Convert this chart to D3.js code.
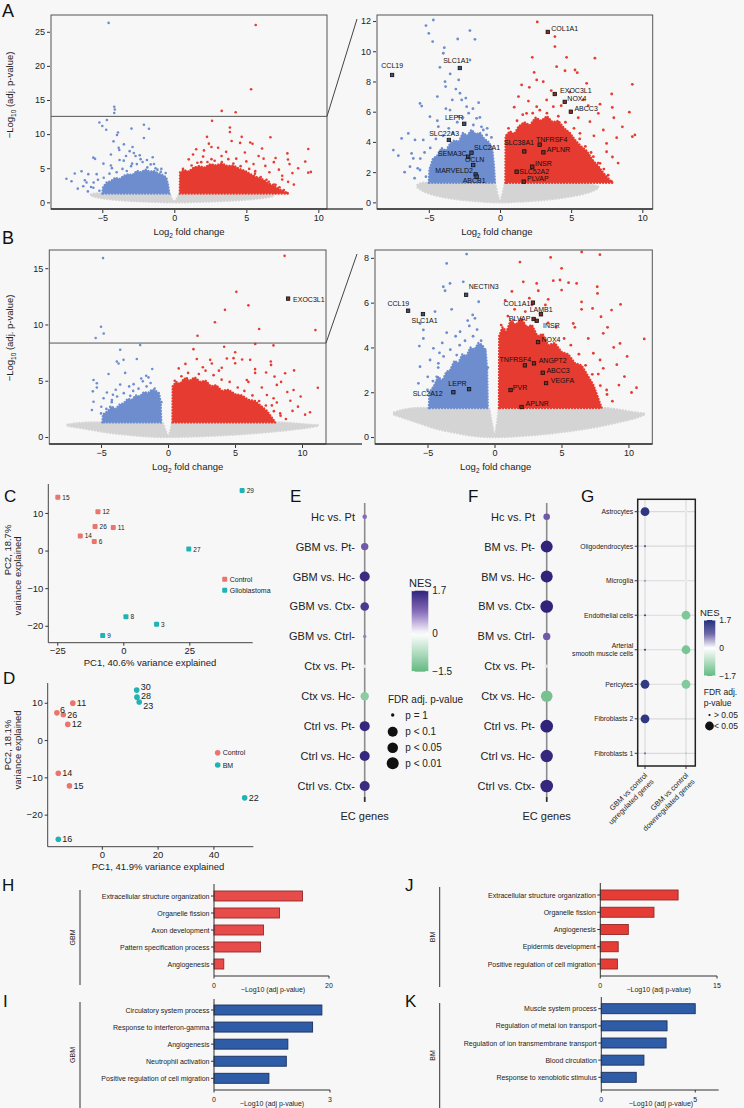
<!DOCTYPE html>
<html>
<head>
<meta charset="utf-8">
<script src="https://cdn.jsdelivr.net/npm/d3@7"></script>
<style>
  body { margin: 0; background: #f7f7f7; }
  svg { font-family: "Liberation Sans", Arial, Helvetica, sans-serif; }
</style>
</head>
<body>
<svg id="fig" width="744" height="1108"></svg>
<script>
// ---------------- volcano data, GBM vs control (panel A) ----------------
// dense clouds as envelopes: [log2FC, low, high] in -log10(adj p)
var gbmGrayBand = [[-5.8,1.0,1.15],[-5.4,0.75,1.3],[-5,0.6,1.3],[-4,0.35,1.3],[-3,0.2,1.3],[-2,0.1,1.3],[-1,0.03,1.3],[-0.4,0,1.3],[-0.15,0,0.45],[0,0,0.05],[0.15,0,0.45],[0.4,0,1.3],[1,0.03,1.3],[2,0.08,1.3],[3,0.15,1.3],[4,0.25,1.3],[5,0.4,1.3],[6,0.6,1.25],[6.5,0.75,1.15],[6.9,0.95,1.05]];
var gbmBlueBand = [[-5.0,1.3,1.3],[-4.95,1.3,2.2],[-4.7,1.3,2.9],[-4.4,1.3,3.1],[-4.1,1.3,3.6],[-3.8,1.3,3.4],[-3.5,1.3,3.9],[-3.2,1.3,4.1],[-2.9,1.3,4.0],[-2.6,1.3,4.6],[-2.3,1.3,4.4],[-2.0,1.3,4.8],[-1.7,1.3,4.5],[-1.4,1.3,4.6],[-1.1,1.3,4.2],[-0.8,1.3,4.0],[-0.55,1.3,3.6],[-0.42,1.3,2.4],[-0.35,1.3,1.3]];
var gbmRedBand = [[0.38,1.3,1.3],[0.4,1.3,4.4],[0.7,1.3,4.7],[1.0,1.3,4.5],[1.3,1.3,5.0],[1.7,1.3,5.3],[2.1,1.3,5.1],[2.5,1.3,5.6],[2.9,1.3,5.4],[3.3,1.3,5.7],[3.7,1.3,5.3],[4.1,1.3,5.4],[4.5,1.3,4.9],[4.9,1.3,4.6],[5.3,1.3,4.1],[5.7,1.3,3.7],[6.1,1.3,3.4],[6.5,1.3,2.8],[6.9,1.3,2.4],[7.3,1.3,1.9],[7.7,1.3,1.5],[7.9,1.3,1.3]];
var gbmDownPts = [[-4.56,26.3],[-4.17,14.0],[-4.13,13.6],[-4.17,13.1],
  [-4.68,12.07],[-5.2,11.7],[-5.0,11.19],[-4.73,10.64],[-3.91,10.24],[-3.98,9.87],[-4.22,8.94],[-3.86,7.99],[-3.82,7.66],
  [-2.11,11.37],[-1.76,10.79],[-2.97,10.81],[-2.11,9.42],[-5.62,6.55],[-5.5,6.37],[-4.92,5.67],[-6.91,4.23],[-6.44,4.56],
  [-7.49,3.46],[-7.14,3.09],[-6.09,2.91],[-6.21,3.24],[-5.62,2.14],[-5.39,4.13],[-3.35,6.78],[-2.81,7.22],[-2.69,6.78],
  [-3.51,6.11],[-2.34,6.33],[-1.64,5.56],[-1.41,5.62],[-2.93,5.67],[-1.87,5.12],[-1.17,4.79],[-0.94,4.46],[-4.33,5.01],
  [-5.97,4.13],[-5.78,2.25],[-6.32,2.36],[-4.33,3.02],
  [-4.5,4.2],[-4.0,4.4],[-3.6,4.9],[-3.0,5.3],[-2.6,5.6],[-2.2,5.9],[-1.9,6.2],[-1.3,5.0],[-0.9,4.9],[-0.6,4.3],
  [-3.3,4.6],[-4.9,3.6],[-5.3,3.3],[-5.6,2.9],[-4.4,5.4],[-3.8,6.2],[-2.4,6.9],[-1.5,6.6],[-3.1,7.5],[-2.9,8.1],
  [-4.4,7.0],[-3.5,8.5],[-6.7,2.0],[-6.0,1.6],[-5.2,1.7]];
var gbmUpPts = [[5.65,26.0],[5.33,16.57],[3.29,13.4],[4.26,13.2],
  [2.62,11.94],[3.86,10.97],[3.86,10.31],[2.27,9.6],[4.68,9.6],[6.67,9.54],[3.98,8.98],[5.27,8.76],[5.43,8.58],[4.57,8.71],
  [2.58,8.1],[3.04,7.99],[1.52,7.77],[2.06,7.61],[6.09,7.88],[9.3,7.81],[7.85,7.17],[5.85,6.78],[7.03,6.5],[7.89,6.28],
  [9.09,5.97],[6.91,5.89],[3.28,6.78],[3.75,6.33],[2.58,6.33],[1.87,5.89],[6.32,5.34],[7.26,4.79],[8.2,4.28],[9.3,4.35],
  [9.48,4.46],[7.49,3.9],[7.49,3.35],[7.03,2.58],[7.85,1.37],[7.03,1.37],[6.79,2.36],[6.21,3.02],[5.62,4.57],[0.94,3.68],
  [0.82,4.35],[1.41,5.01],[6.56,3.02],
  [0.6,4.9],[1.2,5.4],[1.6,5.8],[2.3,5.9],[2.8,6.1],[3.3,5.9],[4.1,5.7],[4.6,5.3],[5.2,4.9],[5.6,4.2],[6.0,3.7],
  [6.4,3.3],[6.9,2.6],[7.3,2.2],[7.6,1.8],[1.0,6.3],[2.0,6.7],[4.3,6.4],[5.0,6.0],[5.5,5.6],[6.6,4.4],[7.9,3.0],
  [8.3,2.6],[1.3,7.0],[3.6,7.4],[4.9,7.3],[6.2,6.4],[8.6,5.0],[8.0,5.6],[2.4,8.6]];
var gbmGenes = [["COL1A1",3.36,11.28,"up"],["CCL19",-7.58,8.43,"down"],["SLC1A1",-2.82,8.89,"down"],
  ["EXOC3L1",3.85,7.17,"up"],["NOX4",4.55,6.65,"up"],["ABCC3",4.98,6.0,"up"],["LEPR",-2.51,5.2,"down"],
  ["SLC22A3",-3.59,4.13,"down"],["SLC2A1",-2.0,3.29,"down"],["SEMA3C",-2.23,3.02,"down"],["OCLN",-1.88,2.47,"down"],
  ["MARVELD2",-1.71,1.85,"down"],["ABCB1",-1.64,1.7,"down"],["SLC38A1",1.71,3.37,"up"],["TNFRSF4",2.79,3.82,"up"],
  ["APLNR",3.05,3.31,"up"],["INSR",2.27,2.36,"up"],["SLC52A2",1.17,2.03,"up"],["PLVAP",1.67,1.37,"up"]];

// ---------------- volcano data, BM vs control (panel B) ----------------
var bmGrayBand = [[-7.5,1.0,1.1],[-6.5,0.8,1.25],[-5.5,0.6,1.3],[-4.5,0.4,1.3],[-3,0.2,1.3],[-1.5,0.05,1.3],[-0.45,0,1.3],[-0.15,0,0.45],[0,0,0.05],[0.15,0,0.45],[0.35,0,1.3],[2,0.05,1.3],[4,0.15,1.3],[6,0.3,1.3],[8,0.5,1.3],[9.5,0.7,1.2],[10.5,0.85,1.1],[11.2,1.0,1.05]];
var bmBlueBand = [[-4.9,1.3,1.3],[-4.85,1.3,2.0],[-4.5,1.3,2.3],[-4.2,1.3,2.7],[-3.9,1.3,2.5],[-3.6,1.3,2.9],[-3.3,1.3,3.0],[-3.0,1.3,3.4],[-2.7,1.3,3.3],[-2.4,1.3,3.7],[-2.1,1.3,3.6],[-1.8,1.3,4.0],[-1.5,1.3,3.9],[-1.2,1.3,4.2],[-0.9,1.3,4.1],[-0.65,1.3,3.8],[-0.55,1.3,3.0],[-0.5,1.3,1.3]];
var bmRedBand = [[0.33,1.3,1.3],[0.35,1.3,4.5],[0.6,1.3,4.9],[0.9,1.3,4.7],[1.2,1.3,5.2],[1.6,1.3,5.0],[2.0,1.3,5.3],[2.4,1.3,4.9],[2.8,1.3,5.0],[3.2,1.3,4.5],[3.6,1.3,4.6],[4.0,1.3,4.1],[4.5,1.3,4.2],[5.0,1.3,3.8],[5.5,1.3,3.7],[6.0,1.3,3.3],[6.5,1.3,3.2],[7.0,1.3,2.7],[7.4,1.3,2.3],[7.7,1.3,1.8],[8.0,1.3,1.3]];
var bmDownPts = [[-4.85,15.9],[-5.0,9.8],[-4.8,9.2],[-5.4,8.8],
  [-2.08,8.17],[-3.57,7.75],[-3.32,6.86],[-3.69,6.53],[-3.82,6.71],[-2.33,6.93],[-1.18,6.04],[-3.2,5.7],[-4.44,5.6],
  [-1.63,5.45],[-1.46,5.3],[-1.88,4.96],[-5.56,5.07],[-5.31,4.78],[-3.57,4.66],[-2.57,4.7],[-5.61,4.06],[-5.31,4.4],
  [-4.56,3.96],[-4.11,3.76],[-2.82,3.66],[-4.81,3.44],[-5.56,3.14],[-4.19,3.29],[-4.98,2.69],[-5.68,2.4],[-4.31,2.69],
  [-4.56,1.58],[-3.32,1.8],[-3.82,1.58],
  [-4.2,3.1],[-3.8,3.6],[-3.3,3.9],[-2.6,4.1],[-2.2,4.3],[-1.6,4.5],[-1.0,4.3],[-0.7,3.9],[-0.5,3.1],[-4.6,2.5],
  [-5.0,2.1],[-2.9,4.5],[-1.3,4.8],[-2.0,5.2],[-3.9,4.2]];
var bmUpPts = [[8.7,16.1],[5.1,12.9],[4.25,11.3],[6.0,11.7],[11.0,9.5],[3.5,10.2],[6.8,9.6],[2.2,9.0],
  [6.51,8.26],[7.87,8.14],[1.9,7.81],[4.19,8.02],[5.01,7.53],[2.15,6.93],[3.15,6.86],[4.39,6.98],[4.89,7.01],[5.53,6.89],
  [6.13,6.86],[3.27,6.53],[5.01,6.56],[7.67,6.71],[7.69,6.41],[4.01,6.15],[9.41,5.92],[6.5,6.03],[6.5,5.7],[7.32,5.74],
  [8.74,5.67],[7.95,5.37],[5.88,5.07],[8.44,4.9],[8.12,4.63],[11.18,4.38],[9.37,4.18],[7.38,3.74],[7.88,3.44],[9.13,3.23],
  [8.12,3.07],[7.75,2.81],[9.29,2.32],[10.23,1.99],[8.37,2.1],[1.9,4.11],[0.84,4.63],[1.4,5.22],
  [0.5,5.0],[1.0,5.4],[1.5,5.7],[2.3,5.6],[2.8,5.9],[3.4,5.5],[4.0,5.1],[4.6,4.9],[5.2,4.4],[5.7,4.1],[6.3,3.7],
  [6.8,3.2],[7.3,2.8],[7.9,2.3],[8.4,1.9],[8.8,1.6],[0.8,6.1],[1.3,6.5],[2.6,6.2],[3.8,5.9],[6.0,4.9],[7.0,4.4],
  [9.7,2.7],[9.9,3.6],[10.6,2.2],[8.9,4.0]];
var bmGenes = [["EXOC3L1",8.96,12.3,"up"],["NECTIN3",-2.12,6.35,"down"],["CCL19",-6.45,5.64,"down"],
  ["SLC1A1",-5.34,5.49,"down"],["COL1A1",2.87,6.0,"up"],["LAMB1",3.47,5.48,"up"],["PLVAP",2.92,5.27,"up"],
  ["INSR",3.15,5.19,"up"],["NOX4",3.25,4.24,"up"],["TNFRSF4",2.27,3.2,"up"],["ANGPT2",2.95,3.29,"up"],
  ["ABCC3",3.6,2.87,"up"],["VEGFA",3.85,2.41,"up"],["LEPR",-1.9,2.14,"down"],["SLC2A12",-3.07,2.0,"down"],
  ["PVR",1.2,2.1,"up"],["APLNR",2.02,1.34,"up"]];

// ---------------- PCA (panels C, D) ----------------
var pcaGbmId = ["15","12","26","11","14","6","27","29","8","3","9"];
var pcaGbmPC1 = [-24.8,-9.6,-10.7,-3.8,-16.3,-11,24.8,45.0,1.0,12.6,-7.8];
var pcaGbmPC2 = [14.2,10.3,6.4,6.1,3.9,2.4,0.4,16.0,-17.6,-19.6,-22.6];
var pcaGbmGroup = ["Control","Control","Control","Control","Control","Control","Glioblastoma","Glioblastoma","Glioblastoma","Glioblastoma","Glioblastoma"];

var pcaBmId = ["6","26","11","12","14","15","16","30","28","23","22"];
var pcaBmPC1 = [-16.1,-13.8,-10.4,-12.2,-15.6,-11.6,-15.6,12.5,12.6,13.4,51.2];
var pcaBmPC2 = [7.3,6.8,9.9,4.2,-8.9,-12.3,-26.6,13.4,11.5,10.2,-15.5];
var pcaBmGroup = ["Control","Control","Control","Control","Control","Control","BM","BM","BM","BM","BM"];

// ---------------- GSEA of EC genes (panels E, F) ----------------
var ecRowsE = ["Hc vs. Pt","GBM vs. Pt-","GBM vs. Hc-","GBM vs. Ctx-","GBM vs. Ctrl-","Ctx vs. Pt-","Ctx vs. Hc-","Ctrl vs. Pt-","Ctrl vs. Hc-","Ctrl vs. Ctx-"];
var ecNesE = [0.9,1.1,1.6,1.45,0.75,0.15,-1.1,1.65,1.65,1.6];
var ecFdrE = [0.48,0.11,0.028,0.059,0.9,0.9,0.066,0.028,0.028,0.028];
var ecRowsF = ["Hc vs. Pt","BM vs. Pt-","BM vs. Hc-","BM vs. Ctx-","BM vs. Ctrl-","Ctx vs. Pt-","Ctx vs. Hc-","Ctrl vs. Pt-","Ctrl vs. Hc-","Ctrl vs. Ctx-"];
var ecNesF = [1.1,1.7,1.7,1.7,1.1,0.2,-1.3,1.7,1.65,1.65];
var ecFdrF = [0.17,0.01,0.01,0.007,0.11,0.9,0.012,0.007,0.008,0.007];
var fdrLegendLabels = ["p = 1","p < 0.1","p < 0.05","p < 0.01"];

// ---------------- cell type enrichment (panel G) ----------------
var cellTypes = ["Astrocytes","Oligodendrocytes","Microglia","Endothelial cells","Arterial|smooth muscle cells","Pericytes","Fibroblasts 2","Fibroblasts 1"];
var geneSets = ["GBM vs control|upregulated genes","GBM vs control|downregulated genes"];
var cellNesUp = [1.6,1.0,0.6,1.3,1.4,1.55,1.6,0.8];
var cellNesDown = [-0.3,0.2,0.1,-1.4,-1.45,-1.35,-0.7,-0.9];
var cellSigUp = [1,0,0,0,0,1,1,0];
var cellSigDown = [0,0,0,1,1,1,0,0];

// ---------------- GO terms (panels H-K) ----------------
var gbmUpTerms = ["Extracellular structure organization","Organelle fission","Axon development","Pattern specification process","Angiogenesis"];
var gbmUpVals = [15.4,11.4,8.6,8.1,1.7];
var gbmDownTerms = ["Circulatory system process","Response to interferon-gamma","Angiogenesis","Neutrophil activation","Positive regulation of cell migration"];
var gbmDownVals = [2.79,2.55,1.91,1.87,1.42];
var bmUpTerms = ["Extracellular structure organization","Organelle fission","Angiogenesis","Epidermis development","Positive regulation of cell migration"];
var bmUpVals = [10.0,6.9,3.6,2.3,2.2];
var bmDownTerms = ["Muscle system process","Regulation of metal ion transport","Regulation of ion transmembrane transport","Blood circulation","Response to xenobiotic stimulus"];
var bmDownVals = [5.0,3.5,3.45,2.27,1.86];

// label nudges (px) for gene labels: [dx, dy, anchor]
var gbmGeneNudge = {COL1A1:[3.5,-3.7,"start"],CCL19:[11,-9,"end"],SLC1A1:[-16.7,-7.7,"start"],EXOC3L1:[5.3,-3.3,"start"],
  NOX4:[2.6,-3,"start"],ABCC3:[3.6,-3.4,"start"],LEPR:[-19.3,-6.4,"start"],SLC22A3:[-19.7,-6,"start"],SLC2A1:[2.6,-5,"start"],
  SEMA3C:[-1.6,-3,"end"],OCLN:[-8.3,-5.3,"start"],MARVELD2:[-2.7,-4.3,"end"],ABCB1:[-14,3.6,"start"],SLC38A1:[-20.3,-8.6,"start"],
  TNFRSF4:[-3.7,-5.4,"start"],APLNR:[3.4,-3.3,"start"],INSR:[2.7,-3,"start"],SLC52A2:[2.6,0,"start"],PLVAP:[3.3,-3,"start"]};
var bmGeneNudge = {EXOC3L1:[5,1,"start"],NECTIN3:[2.6,-8,"start"],CCL19:[-20.7,-7.4,"start"],SLC1A1:[-11.4,6,"start"],
  COL1A1:[-2.6,0.6,"end"],LAMB1:[-11.3,-5,"start"],PLVAP:[-3.3,0,"end"],INSR:[6.3,4.6,"start"],NOX4:[3.4,-2.7,"start"],
  TNFRSF4:[-25.3,-6,"start"],ANGPT2:[4.7,-3,"start"],ABCC3:[3.7,-2.7,"start"],VEGFA:[4.7,-2.7,"start"],LEPR:[-20.7,-5.7,"start"],
  SLC2A12:[-10.7,1,"end"],PVR:[2.3,-2.7,"start"],APLNR:[4,-3.3,"start"]};

var BLUE = "#6d8dcf", RED = "#e63b30", GRAY = "#d4d4d4";
var SALMON = "#e9756d", TEAL = "#1fb3b3";

var svg = d3.select("#fig");
var defs = svg.append("defs");

function panelLabel(t, x, y, size) {
  svg.append("text").attr("x", x).attr("y", y).attr("font-size", size || 17).attr("fill", "#111").text(t);
}

function styleAxis(g, fs) {
  g.select(".domain").remove();
  g.selectAll(".tick line").attr("stroke", "#333");
  g.selectAll(".tick text").attr("font-size", fs).attr("fill", "#222")
    .attr("font-family", "'Liberation Sans', Arial, sans-serif");
}

//draw one volcano panel (full range or zoomed)
function drawVolcano(o) {
  var x = d3.scaleLinear().domain(o.xDom).range([o.l, o.r]);
  var y = d3.scaleLinear().domain(o.yDom).range([o.b, o.t]);

  defs.append("clipPath").attr("id", "clip-" + o.name)
    .append("rect").attr("x", o.l).attr("y", o.t).attr("width", o.r - o.l).attr("height", o.b - o.t);
  var g = svg.append("g").attr("clip-path", "url(#clip-" + o.name + ")");

  var band = d3.area()
    .x(function(d) { return x(d[0]); })
    .y0(function(d) { return y(d[1]); })
    .y1(function(d) { return y(d[2]); });
  // dense clouds: filled envelope with a dotted rim so the edge reads like points
  [[o.gray, GRAY, d3.curveMonotoneX], [o.blue, BLUE, d3.curveLinear], [o.red, RED, d3.curveLinear]].forEach(function(b) {
    g.append("path").datum(b[0]).attr("d", band.curve(b[2])).attr("fill", b[1])
      .attr("stroke", b[1]).attr("stroke-width", 2.4).attr("stroke-linecap", "round")
      .attr("stroke-dasharray", "0.1 2.9");
  });

  g.selectAll("circle.dn").data(o.down).enter().append("circle")
    .attr("cx", function(d) { return x(d[0]); }).attr("cy", function(d) { return y(d[1]); })
    .attr("r", o.pr).attr("fill", BLUE);
  g.selectAll("circle.up").data(o.up).enter().append("circle")
    .attr("cx", function(d) { return x(d[0]); }).attr("cy", function(d) { return y(d[1]); })
    .attr("r", o.pr).attr("fill", RED);

  // labelled genes (only those above the cut in the full view)
  var genes = o.genes.filter(function(d) { return d[2] >= o.labelMin && d[2] <= o.yDom[1]; });
  svg.selectAll(null).data(genes).enter().append("rect")
    .attr("x", function(d) { return x(d[1]) - 1.7; }).attr("y", function(d) { return y(d[2]) - 1.7; })
    .attr("width", 3.4).attr("height", 3.4)
    .attr("fill", function(d) { return d[3] == "up" ? "#8a2a22" : "#3b4f80"; })
    .attr("stroke", "#111").attr("stroke-width", 0.8);
  svg.selectAll(null).data(genes).enter().append("text")
    .attr("x", function(d) { return x(d[1]) + o.nudge[d[0]][0]; })
    .attr("y", function(d) { return y(d[2]) + o.nudge[d[0]][1]; })
    .attr("text-anchor", function(d) { return o.nudge[d[0]][2]; })
    .attr("dominant-baseline", "central")
    .attr("font-size", 7).attr("fill", "#111")
    .text(function(d) { return d[0]; });

  // cut line for the zoomed region
  if (o.cut != null) {
    svg.append("line").attr("x1", o.l).attr("x2", o.r).attr("y1", y(o.cut)).attr("y2", y(o.cut))
      .attr("stroke", "#555").attr("stroke-width", 1);
  }

  svg.append("rect").attr("x", o.l).attr("y", o.t).attr("width", o.r - o.l).attr("height", o.b - o.t)
    .attr("fill", "none").attr("stroke", "#555").attr("stroke-width", 1);
  svg.append("line").attr("x1", o.l).attr("x2", o.r).attr("y1", o.b).attr("y2", o.b)
    .attr("stroke", "#333").attr("stroke-width", 1.3);

  var ya = svg.append("g").attr("transform", "translate(" + (o.l - 1) + ",0)")
    .call(d3.axisLeft(y).tickValues(o.yTicks).tickSize(3).tickPadding(2));
  styleAxis(ya, 9);
  var xa = svg.append("g").attr("transform", "translate(0," + (o.b + 1) + ")")
    .call(d3.axisBottom(x).tickValues(o.xTicks).tickSize(3).tickPadding(2));
  styleAxis(xa, 9);

  var xt = svg.append("text").attr("x", (o.l + o.r) / 2 + o.xtShift).attr("y", o.b + 26)
    .attr("text-anchor", "middle").attr("font-size", 9.5).attr("fill", "#222");
  xt.append("tspan").text("Log");
  xt.append("tspan").attr("font-size", 6.5).attr("dy", 2.5).text("2");
  xt.append("tspan").attr("dy", -2.5).text(" fold change");

  return { x: x, y: y };
}

function yTitle(cx, cy) {
  var t = svg.append("text").attr("transform", "translate(" + cx + "," + cy + ") rotate(-90)")
    .attr("text-anchor", "middle").attr("font-size", 9.5).attr("fill", "#222");
  t.append("tspan").text("\u2212Log");
  t.append("tspan").attr("font-size", 6.5).attr("dy", 2.5).text("10");
  t.append("tspan").attr("dy", -2.5).text(" (adj. p-value)");
}

// ---------- panel A ----------
var aFull = drawVolcano({ name: "a1", l: 51, r: 327, t: 15, b: 209, xDom: [-8.56, 10.6], yDom: [-0.98, 27.46],
  gray: gbmGrayBand, blue: gbmBlueBand, red: gbmRedBand, down: gbmDownPts, up: gbmUpPts,
  genes: gbmGenes, nudge: gbmGeneNudge, labelMin: 12.6, cut: 12.6, pr: 1.3,
  yTicks: [0, 5, 10, 15, 20, 25], xTicks: [-5, 0, 5, 10], xtShift: 0 });
drawVolcano({ name: "a2", l: 377, r: 652.7, t: 15, b: 209, xDom: [-8.64, 10.73], yDom: [-0.44, 12.4],
  gray: gbmGrayBand, blue: gbmBlueBand, red: gbmRedBand, down: gbmDownPts, up: gbmUpPts,
  genes: gbmGenes, nudge: gbmGeneNudge, labelMin: -1, cut: null, pr: 1.4,
  yTicks: [0, 2, 4, 6, 8, 10, 12], xTicks: [-5, 0, 5, 10], xtShift: -18 });
svg.append("line").attr("x1", 327).attr("y1", aFull.y(12.6)).attr("x2", 357).attr("y2", 19).attr("stroke", "#444");
svg.append("line").attr("x1", 327).attr("y1", 209).attr("x2", 363).attr("y2", 209).attr("stroke", "#444").attr("stroke-width", 1.3);
yTitle(13, 95);
panelLabel("A", 2, 17, 18);

// ---------- panel B ----------
var bFull = drawVolcano({ name: "b1", l: 49.3, r: 326, t: 250, b: 444, xDom: [-8.86, 11.79], yDom: [-0.62, 16.62],
  gray: bmGrayBand, blue: bmBlueBand, red: bmRedBand, down: bmDownPts, up: bmUpPts,
  genes: bmGenes, nudge: bmGeneNudge, labelMin: 8.35, cut: 8.35, pr: 1.3,
  yTicks: [0, 5, 10, 15], xTicks: [-5, 0, 5, 10], xtShift: 0 });
drawVolcano({ name: "b2", l: 375, r: 652.3, t: 250, b: 444, xDom: [-8.92, 11.78], yDom: [-0.31, 8.35],
  gray: bmGrayBand, blue: bmBlueBand, red: bmRedBand, down: bmDownPts, up: bmUpPts,
  genes: bmGenes, nudge: bmGeneNudge, labelMin: -1, cut: null, pr: 1.4,
  yTicks: [0, 2, 4, 6, 8], xTicks: [-5, 0, 5, 10], xtShift: -18 });
svg.append("line").attr("x1", 326).attr("y1", bFull.y(8.35)).attr("x2", 357).attr("y2", 254).attr("stroke", "#444");
svg.append("line").attr("x1", 326).attr("y1", 444).attr("x2", 362).attr("y2", 444).attr("stroke", "#444").attr("stroke-width", 1.3);
yTitle(13, 338);
panelLabel("B", 2, 244, 18);

// ---------- PCA panels ----------
function drawPca(o) {
  var x = d3.scaleLinear().domain(o.xDom).range([o.l, o.r]);
  var y = d3.scaleLinear().domain(o.yDom).range([o.b, o.t]);
  var col = d3.scaleOrdinal().domain(o.groups).range([SALMON, TEAL]);

  svg.append("line").attr("x1", o.l).attr("x2", o.l).attr("y1", o.t).attr("y2", o.b).attr("stroke", "#444");
  svg.append("line").attr("x1", o.l).attr("x2", o.r).attr("y1", o.b).attr("y2", o.b).attr("stroke", "#444");
  var ya = svg.append("g").attr("transform", "translate(" + o.l + ",0)")
    .call(d3.axisLeft(y).tickValues(o.yTicks).tickSize(3).tickPadding(2));
  styleAxis(ya, 9.5);
  var xa = svg.append("g").attr("transform", "translate(0," + o.b + ")")
    .call(d3.axisBottom(x).tickValues(o.xTicks).tickSize(3).tickPadding(2));
  styleAxis(xa, 9.5);

  var idx = d3.range(o.ids.length);
  if (o.square) {
    svg.selectAll(null).data(idx).enter().append("rect")
      .attr("x", function(i) { return x(o.pc1[i]) - 2.5; }).attr("y", function(i) { return y(o.pc2[i]) - 2.5; })
      .attr("width", 5).attr("height", 5).attr("rx", 1)
      .attr("fill", function(i) { return col(o.group[i]); });
  } else {
    svg.selectAll(null).data(idx).enter().append("circle")
      .attr("cx", function(i) { return x(o.pc1[i]); }).attr("cy", function(i) { return y(o.pc2[i]); })
      .attr("r", 2.8).attr("fill", function(i) { return col(o.group[i]); });
  }
  svg.selectAll(null).data(idx).enter().append("text")
    .attr("x", function(i) { var n = o.nudge[o.ids[i]] || o.defNudge; return x(o.pc1[i]) + n[0]; })
    .attr("y", function(i) { var n = o.nudge[o.ids[i]] || o.defNudge; return y(o.pc2[i]) + n[1]; })
    .attr("dominant-baseline", "central").attr("font-size", o.lfs).attr("fill", "#222")
    .text(function(i) { return o.ids[i]; });

  // legend
  o.groups.forEach(function(gname, k) {
    var ly = o.legY + k * o.legStep;
    if (o.square) {
      svg.append("rect").attr("x", o.legX - 2.5).attr("y", ly - 2.5).attr("width", 5).attr("height", 5).attr("rx", 1).attr("fill", col(gname));
    } else {
      svg.append("circle").attr("cx", o.legX).attr("cy", ly).attr("r", 2.8).attr("fill", col(gname));
    }
    svg.append("text").attr("x", o.legX + 5).attr("y", ly).attr("dominant-baseline", "central")
      .attr("font-size", 7).attr("fill", "#222").text(gname);
  });

  svg.append("text").attr("x", o.xtX).attr("y", o.xtY).attr("text-anchor", "middle")
    .attr("font-size", 9.5).attr("fill", "#222").text(o.xTitle);
  o.yTitle.forEach(function(line, k) {
    svg.append("text").attr("transform", "translate(" + (o.ytX + k * 10) + "," + o.ytY[k] + ") rotate(-90)")
      .attr("text-anchor", "middle").attr("font-size", 9.5).attr("fill", "#222").text(line);
  });
}

drawPca({ l: 48.3, r: 252.7, t: 484, b: 642.7, xDom: [-28.4, 49], yDom: [-24.5, 17.7],
  xTicks: [-25, 0, 25], yTicks: [-20, -10, 0, 10], ids: pcaGbmId, pc1: pcaGbmPC1, pc2: pcaGbmPC2, group: pcaGbmGroup,
  groups: ["Control", "Glioblastoma"], square: true, lfs: 6.5, nudge: {}, defNudge: [4.5, 0],
  legX: 224.7, legY: 579.3, legStep: 11, xTitle: "PC1, 40.6% variance explained", xtX: 150, xtY: 666,
  yTitle: ["PC2, 18.7%", "variance explained"], ytX: 10.5, ytY: [550, 576] });
panelLabel("C", 4, 502);

drawPca({ l: 47.7, r: 253.3, t: 683, b: 846.7, xDom: [-19.4, 54.3], yDom: [-28.6, 15.3],
  xTicks: [0, 20, 40], yTicks: [-20, -10, 0, 10], ids: pcaBmId, pc1: pcaBmPC1, pc2: pcaBmPC2, group: pcaBmGroup,
  groups: ["Control", "BM"], square: false, lfs: 9,
  nudge: { "6": [3, -3], "30": [4, -3.3], "28": [4, -1.3], "23": [4, 3.5] }, defNudge: [4, 0],
  legX: 217.7, legY: 752.7, legStep: 12.3, xTitle: "PC1, 41.9% variance explained", xtX: 158, xtY: 870,
  yTitle: ["PC2, 18.1%", "variance explained"], ytX: 10.5, ytY: [745, 750] });
panelLabel("D", 3, 684);

// ---------- panels E, F ----------
var nesColor = d3.scaleLinear().domain([-1.5, 0, 0.85, 1.7])
  .range(["#63b981", "#ffffff", "#8a6fbd", "#30237a"]).clamp(true);
var fdrRadius = d3.scaleLinear().domain([0, 2]).range([1.6, 6]);

function drawLollipop(rows, nes, fdr, lineX, labelRight) {
  var y = d3.scalePoint().domain(rows).range([516.7, 786]);
  svg.append("line").attr("x1", lineX).attr("x2", lineX).attr("y1", 503).attr("y2", 801)
    .attr("stroke", "#8c8c8c").attr("stroke-width", 1.6);
  svg.append("line").attr("x1", lineX).attr("x2", lineX).attr("y1", 797).attr("y2", 802)
    .attr("stroke", "#333").attr("stroke-width", 1.6);
  svg.selectAll(null).data(rows).enter().append("circle")
    .attr("cx", lineX).attr("cy", function(d) { return y(d); })
    .attr("r", function(d, i) { return fdrRadius(-Math.log10(fdr[i])); })
    .attr("fill", function(d, i) { return nesColor(nes[i]); });
  svg.selectAll(null).data(rows).enter().append("text")
    .attr("x", labelRight).attr("y", function(d) { return y(d); })
    .attr("text-anchor", "end").attr("dominant-baseline", "central")
    .attr("font-size", 11).attr("fill", "#222").text(function(d) { return d; });
  svg.append("text").attr("x", lineX).attr("y", 820).attr("text-anchor", "middle")
    .attr("font-size", 11).attr("fill", "#222").text("EC genes");
}
drawLollipop(ecRowsE, ecNesE, ecFdrE, 364.7, 355);
drawLollipop(ecRowsF, ecNesF, ecFdrF, 546.7, 535);
panelLabel("E", 290, 502);
panelLabel("F", 468, 502);

function colorBar(id, scale, lo, hi, bx, by, bw, bh, labels, title, titleX, titleY, fs) {
  var gr = defs.append("linearGradient").attr("id", id).attr("x1", 0).attr("y1", 1).attr("x2", 0).attr("y2", 0);
  d3.range(0, 1.0001, 0.05).forEach(function(t) {
    gr.append("stop").attr("offset", t).attr("stop-color", scale(lo + t * (hi - lo)));
  });
  svg.append("rect").attr("x", bx).attr("y", by).attr("width", bw).attr("height", bh).attr("fill", "url(#" + id + ")");
  var yb = d3.scaleLinear().domain([lo, hi]).range([by + bh, by]);
  labels.forEach(function(v) {
    svg.append("text").attr("x", bx + bw + 4).attr("y", yb(v)).attr("dominant-baseline", "central")
      .attr("font-size", fs).attr("fill", "#222").text(d3.format("")(v).replace("-", "\u2212"));
    svg.append("line").attr("x1", bx).attr("x2", bx + 3).attr("y1", yb(v)).attr("y2", yb(v)).attr("stroke", "#fff");
    svg.append("line").attr("x1", bx + bw - 3).attr("x2", bx + bw).attr("y1", yb(v)).attr("y2", yb(v)).attr("stroke", "#fff");
  });
  svg.append("text").attr("x", titleX).attr("y", titleY).attr("font-size", fs + 1).attr("fill", "#222").text(title);
}
colorBar("nesE", nesColor, -1.5, 1.7, 411.7, 590.7, 16.6, 81, [1.7, 0, -1.5], "NES", 409, 587, 10);

// FDR size legend for E/F
svg.append("text").attr("x", 388).attr("y", 699.3).attr("dominant-baseline", "central")
  .attr("font-size", 10).attr("fill", "#222").text("FDR adj. p-value");
var fdrLegendR = [1.7, 5, 5.3, 6];
fdrLegendLabels.forEach(function(lab, i) {
  var ly = [715, 731.7, 747.7, 763.3][i];
  svg.append("circle").attr("cx", 392.7).attr("cy", ly).attr("r", fdrLegendR[i]).attr("fill", "#111");
  svg.append("text").attr("x", 405.3).attr("y", ly).attr("dominant-baseline", "central")
    .attr("font-size", 10).attr("fill", "#222").text(lab);
});

// ---------- panel G ----------
var cellColor = d3.scaleLinear().domain([-1.7, 0, 0.85, 1.7])
  .range(["#62bb81", "#ffffff", "#6f6aa8", "#24307e"]).clamp(true);
var gx = d3.scalePoint().domain(geneSets).range([645, 686]);
var gy = d3.scalePoint().domain(cellTypes).range([511.7, 753.3]);
var gL = 637.7, gR = 695.3, gT = 499.3, gB = 766;

cellTypes.forEach(function(c) {
  svg.append("line").attr("x1", gL).attr("x2", gR).attr("y1", gy(c)).attr("y2", gy(c))
    .attr("stroke", "#dadada").attr("stroke-width", 1.2);
});
geneSets.forEach(function(s) {
  svg.append("line").attr("x1", gx(s)).attr("x2", gx(s)).attr("y1", gT).attr("y2", gB)
    .attr("stroke", "#dadada").attr("stroke-width", 1.2);
});
var cellDots = [];
cellTypes.forEach(function(c, i) {
  cellDots.push({ c: c, s: geneSets[0], nes: cellNesUp[i], sig: cellSigUp[i] });
  cellDots.push({ c: c, s: geneSets[1], nes: cellNesDown[i], sig: cellSigDown[i] });
});
svg.selectAll(null).data(cellDots).enter().append("circle")
  .attr("cx", function(d) { return gx(d.s); }).attr("cy", function(d) { return gy(d.c); })
  .attr("r", function(d) { return d.sig ? 4.4 : 1.1; })
  .attr("fill", function(d) { return cellColor(d.nes); });
svg.append("rect").attr("x", gL).attr("y", gT).attr("width", gR - gL).attr("height", gB - gT)
  .attr("fill", "none").attr("stroke", "#222").attr("stroke-width", 1.5);
cellTypes.forEach(function(c) {
  svg.append("line").attr("x1", gL - 3).attr("x2", gL).attr("y1", gy(c)).attr("y2", gy(c)).attr("stroke", "#333");
  var parts = c.split("|");
  parts.forEach(function(p, k) {
    svg.append("text").attr("x", gL - 4.5).attr("y", gy(c) + (k - (parts.length - 1)) * 8 + (parts.length > 1 ? 4 : 0))
      .attr("text-anchor", "end").attr("dominant-baseline", "central")
      .attr("font-size", 6.8).attr("fill", "#222").text(p);
  });
});
// rotated gene-set labels below the box
geneSets.forEach(function(s) {
  svg.append("line").attr("x1", gx(s)).attr("x2", gx(s)).attr("y1", gB).attr("y2", gB + 3).attr("stroke", "#333");
  var lab = svg.append("g").attr("transform", "translate(" + (gx(s) + 1) + "," + (gB + 8) + ") rotate(-45)");
  s.split("|").forEach(function(p, k) {
    lab.append("text").attr("x", 0).attr("y", k * 9).attr("text-anchor", "end").attr("dominant-baseline", "central")
      .attr("font-size", 7.3).attr("fill", "#222").text(p);
  });
});
colorBar("nesG", cellColor, -1.7, 1.7, 704, 620, 11.3, 56, [1.7, 0, -1.7], "NES", 700, 616, 8.5);
svg.append("text").attr("x", 703.7).attr("y", 691.7).attr("dominant-baseline", "central").attr("font-size", 8.5).attr("fill", "#222").text("FDR adj.");
svg.append("text").attr("x", 703.7).attr("y", 703.3).attr("dominant-baseline", "central").attr("font-size", 8.5).attr("fill", "#222").text("p-value");
[["> 0.05", 1.1, 715], ["< 0.05", 4.4, 726]].forEach(function(d) {
  svg.append("circle").attr("cx", 709.5).attr("cy", d[2]).attr("r", d[1]).attr("fill", "#111");
  svg.append("text").attr("x", 714).attr("y", d[2]).attr("dominant-baseline", "central").attr("font-size", 8.5).attr("fill", "#222").text(d[0]);
});
panelLabel("G", 581, 502);

// ---------- panels H-K ----------
function drawBars(o) {
  var x = d3.scaleLinear().domain([0, o.dmax]).range([o.x0, o.x1]);
  var y = d3.scalePoint().domain(o.terms).range([o.c0, o.c1]);
  svg.selectAll(null).data(o.terms).enter().append("rect")
    .attr("x", x(0)).attr("y", function(d) { return y(d) - 5; })
    .attr("width", function(d, i) { return x(o.vals[i]) - x(0); }).attr("height", 10)
    .attr("fill", o.fill).attr("stroke", o.edge).attr("stroke-width", 0.9);
  svg.append("line").attr("x1", o.x0).attr("x2", o.x0).attr("y1", o.axTop).attr("y2", o.axY).attr("stroke", "#333");
  svg.append("line").attr("x1", o.x0).attr("x2", o.x1).attr("y1", o.axY).attr("y2", o.axY).attr("stroke", "#333");
  o.terms.forEach(function(t) {
    svg.append("line").attr("x1", o.x0 - 3).attr("x2", o.x0).attr("y1", y(t)).attr("y2", y(t)).attr("stroke", "#333");
    svg.append("text").attr("x", o.x0 - 4.5).attr("y", y(t)).attr("text-anchor", "end").attr("dominant-baseline", "central")
      .attr("font-size", 7).attr("fill", "#222").text(t);
  });
  o.ticks.forEach(function(v) {
    svg.append("line").attr("x1", x(v)).attr("x2", x(v)).attr("y1", o.axY).attr("y2", o.axY + 2.5).attr("stroke", "#333");
    svg.append("text").attr("x", x(v)).attr("y", o.axY + 9).attr("text-anchor", "middle").attr("dominant-baseline", "central")
      .attr("font-size", 7).attr("fill", "#222").text(v);
  });
  svg.append("text").attr("x", o.titleX).attr("y", o.axY + 13.5).attr("text-anchor", "middle").attr("dominant-baseline", "central")
    .attr("font-size", 7).attr("fill", "#222").text("\u2212Log10 (adj p-value)");
  svg.append("line").attr("x1", o.stripX).attr("x2", o.stripX).attr("y1", o.s0).attr("y2", o.s1).attr("stroke", "#333");
  svg.append("text").attr("transform", "translate(" + (o.stripX - 5) + "," + ((o.s0 + o.s1) / 2) + ") rotate(-90)")
    .attr("text-anchor", "middle").attr("font-size", 7).attr("fill", "#222").text(o.strip);
}

drawBars({ terms: gbmUpTerms, vals: gbmUpVals, fill: "#e84c4a", edge: "#8e2a28", dmax: 20, x0: 214, x1: 329,
  c0: 896, c1: 964, axTop: 884, axY: 976, ticks: [0, 20], titleX: 273, stripX: 80, s0: 890, s1: 985, strip: "GBM" });
drawBars({ terms: gbmDownTerms, vals: gbmDownVals, fill: "#2f5ca6", edge: "#1b2f5c", dmax: 3, x0: 214, x1: 330,
  c0: 1010, c1: 1078.3, axTop: 999, axY: 1090, ticks: [0, 3], titleX: 272, stripX: 80, s0: 1002, s1: 1108, strip: "GBM" });
drawBars({ terms: bmUpTerms, vals: bmUpVals, fill: "#e53c35", edge: "#8e2a28", dmax: 15, x0: 600.3, x1: 717,
  c0: 895, c1: 964, axTop: 883, axY: 976, ticks: [0, 15], titleX: 658.7, stripX: 439.7, s0: 887, s1: 987, strip: "BM" });
drawBars({ terms: bmDownTerms, vals: bmDownVals, fill: "#2f5ca6", edge: "#1b2f5c", dmax: 6.25, x0: 601.3, x1: 718.7,
  c0: 1008.7, c1: 1077.3, axTop: 997, axY: 1090, ticks: [0, 5], titleX: 661, stripX: 439.7, s0: 1003, s1: 1108, strip: "BM" });
panelLabel("H", 2, 891);
panelLabel("I", 3, 1007);
panelLabel("J", 405, 891);
panelLabel("K", 405, 1007);
</script>
</body>
</html>
